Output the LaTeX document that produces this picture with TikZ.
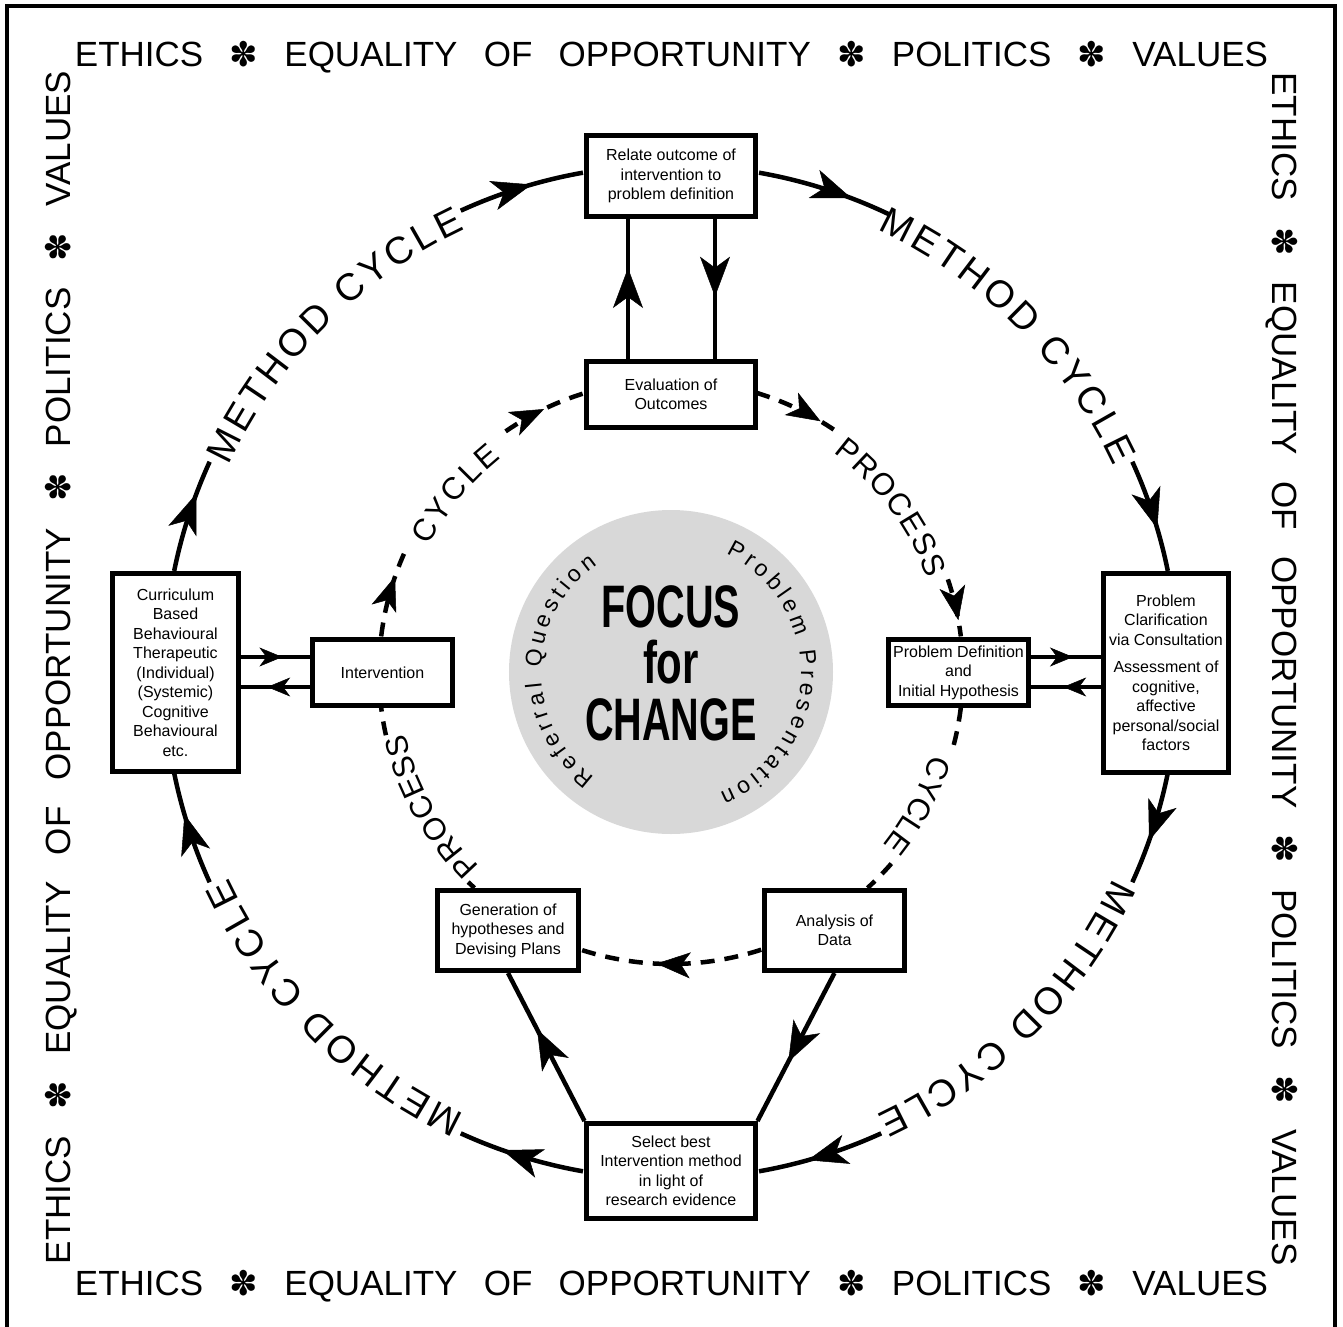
\documentclass[tikz,border=0pt]{standalone}
\usepackage{fontspec}
\setmainfont{Liberation Sans}
\newfontfamily\starfont{DejaVu Sans}
\usepackage{graphicx}
\usetikzlibrary{arrows.meta,decorations.markings,decorations.text}
\pgfdeclarelayer{background}
\pgfsetlayers{background,main}
\definecolor{diskgray}{RGB}{216,216,216}
\newcommand{\starsep}{\hfill{\starfont\fontsize{34}{34}\selectfont ✽}\hfill}
\newcommand{\valuestext}{\fontsize{35}{35}\selectfont\makebox[1193pt]{ETHICS\starsep EQUALITY\hfill OF\hfill OPPORTUNITY\starsep POLITICS\starsep VALUES}}
\begin{document}
\begin{tikzpicture}[x=1pt,y=1pt,
  box/.style={draw, line width=5pt, fill=white, align=center, inner sep=1pt, font=\fontsize{16}{19.5}\selectfont},
  conn/.style={line width=4.5pt},
  dashconn/.style={line width=4.5pt, dash pattern=on 14pt off 10pt},
  tipat/.style 2 args={postaction={decorate,decoration={markings,mark=at position #1 with {\arrow{#2}}}}},
  bigtip/.style={tipat={#1}{Stealth[length=40pt,width=30pt,inset=11pt,line width=0.5pt]}},
  midtip/.style={tipat={#1}{Stealth[length=34pt,width=26pt,inset=9pt,line width=0.5pt]}},
  smalltip/.style={tipat={#1}{Stealth[length=23pt,width=19pt,inset=7pt,line width=0.5pt]}},
  bordertext/.style={inner sep=0pt, anchor=base},
  bigword/.style={inner sep=0pt, anchor=base, font=\fontsize{60}{60}\selectfont\bfseries},
]
\useasboundingbox (-671,-654) rectangle (672,672);
% frame
\draw[line width=4pt] (-664,-660) -- (-664,666) -- (664,666) -- (664,-660);
% border texts
\node[bordertext] (toptext) at (0.5,605) {\valuestext};
\node[bordertext] (bottext) at (0.5,-623) {\valuestext};
\node[bordertext, rotate=90] (lefttext) at (-600.5,4.5) {\valuestext};
\node[bordertext, rotate=-90] (righttext) at (601,3) {\valuestext};

% central disk
\node[circle, fill=diskgray, minimum size=324pt, inner sep=0pt] (disk) at (0,0) {};
\node[bigword] (focus) at (0,45) {\scalebox{0.66}[1]{FOCUS}};
\node[bigword] (for) at (0,-11) {\scalebox{0.7}[1]{for}};
\node[bigword] (change) at (0,-68) {\scalebox{0.66}[1]{CHANGE}};
\path[decorate, decoration={text along path, text={|\fontsize{23}{23}\selectfont|Referral Question}, text align={fit to path}}]
  (234:130) arc[start angle=234, end angle=124.5, radius=130];
\path[decorate, decoration={text along path, text={|\fontsize{23}{23}\selectfont|Problem Presentation}, text align={fit to path}}]
  (65:130) arc[start angle=65, end angle=-68, radius=130];

% boxes
\node[box, minimum width=168pt, minimum height=81pt] (relate) at (0,496) {Relate outcome of\\intervention to\\problem definition};
\node[box, minimum width=168pt, minimum height=66pt] (eval) at (0,277.5) {Evaluation of\\Outcomes};
\node[box, minimum width=126pt, minimum height=198pt] (curric) at (-495.5,-0.5) {Curriculum\\Based\\Behavioural\\Therapeutic\\(Individual)\\(Systemic)\\Cognitive\\Behavioural\\etc.};
\node[box, minimum width=140pt, minimum height=66pt] (interv) at (-288.5,-0.5) {Intervention};
\node[box, minimum width=140pt, minimum height=66pt] (probdef) at (287.5,-0.5) {Problem Definition\\and\\Initial Hypothesis};
\node[box, minimum width=125pt, minimum height=199pt] (probclar) at (495,-1) {Problem\\Clarification\\via Consultation\\[8pt]Assessment of\\cognitive,\\affective\\personal/social\\factors};
\node[box, minimum width=141pt, minimum height=80pt] (gener) at (-163,-258.5) {Generation of\\hypotheses and\\Devising Plans};
\node[box, minimum width=140pt, minimum height=80pt] (analysis) at (163.5,-258.5) {Analysis of\\Data};
\node[box, minimum width=168pt, minimum height=95pt] (select) at (0,-499) {Select best\\Intervention method\\in light of\\research evidence};

% cycle labels
\foreach \a/\b in {155/115, 65/25, -25/-65, -115/-155}
  \path[decorate, decoration={text along path, text={|\fontsize{38}{38}\selectfont|METHOD CYCLE}, text align={fit to path}}]
    (\a:488) arc[start angle=\a, end angle=\b, radius=488];
\foreach \a/\b/\t in {152.5/128.5/CYCLE, 53.5/20/PROCESS, -17.5/-38.5/CYCLE, -134.5/-167/PROCESS}
  \path[decorate, decoration={text along path, text={|\fontsize{31}{31}\selectfont|\t}, text align={fit to path}}]
    (\a:273) arc[start angle=\a, end angle=\b, radius=273];

\begin{pgfonlayer}{background}
% outer method cycle
\draw[conn, bigtip=0.70] (168.5:507) arc[start angle=168.5, end angle=155.5, radius=507];
\draw[conn, bigtip=0.59] (114.5:507) arc[start angle=114.5, end angle=100, radius=507];
\draw[conn, bigtip=0.70] (80:507) arc[start angle=80, end angle=64.5, radius=507];
\draw[conn, bigtip=0.62] (24.5:507) arc[start angle=24.5, end angle=11.5, radius=507];
\draw[conn, bigtip=0.61] (-11.5:507) arc[start angle=-11.5, end angle=-24.5, radius=507];
\draw[conn, bigtip=0.61] (-65.5:507) arc[start angle=-65.5, end angle=-80, radius=507];
\draw[conn, bigtip=0.65] (-100:507) arc[start angle=-100, end angle=-114.5, radius=507];
\draw[conn, bigtip=0.63] (-155.5:507) arc[start angle=-155.5, end angle=-168.5, radius=507];
% inner process cycle
\draw[dashconn, midtip=0.71] (173:292) arc[start angle=173, end angle=156, radius=292];
\draw[dashconn, midtip=0.50] (124.5:292) arc[start angle=124.5, end angle=107, radius=292];
\draw[dashconn, midtip=0.79] (73:292) arc[start angle=73, end angle=55.5, radius=292];
\draw[dashconn, midtip=0.72] (18.5:292) arc[start angle=18.5, end angle=7, radius=292];
\draw[dashconn] (-7:292) arc[start angle=-7, end angle=-15, radius=292];
\draw[dashconn] (-41:292) arc[start angle=-41, end angle=-47.7, radius=292];
\draw[dashconn, midtip=0.58] (-72:292) arc[start angle=-72, end angle=-108, radius=292];
\draw[dashconn] (-132.3:292) arc[start angle=-132.3, end angle=-134, radius=292];
\draw[dashconn] (-167.5:292) arc[start angle=-167.5, end angle=-173, radius=292];
% straight connectors
\draw[conn, bigtip=0.65] ([xshift=-43pt]eval.north) -- ([xshift=-43pt]relate.south);
\draw[conn, bigtip=0.555] ([xshift=44pt]relate.south) -- ([xshift=44pt]eval.north);
\draw[conn, smalltip=0.6] (curric.east |- 0,15) -- (interv.west |- 0,15);
\draw[conn, smalltip=0.62] (interv.west |- 0,-15) -- (curric.east |- 0,-15);
\draw[conn, smalltip=0.6] (probdef.east |- 0,15) -- (probclar.west |- 0,15);
\draw[conn, smalltip=0.54] (probclar.west |- 0,-15) -- (probdef.east |- 0,-15);
\draw[conn, bigtip=0.62] (select.north west) -- (gener.south);
\draw[conn, bigtip=0.6] (analysis.south) -- (select.north east);
\end{pgfonlayer}
\end{tikzpicture}
\end{document}
